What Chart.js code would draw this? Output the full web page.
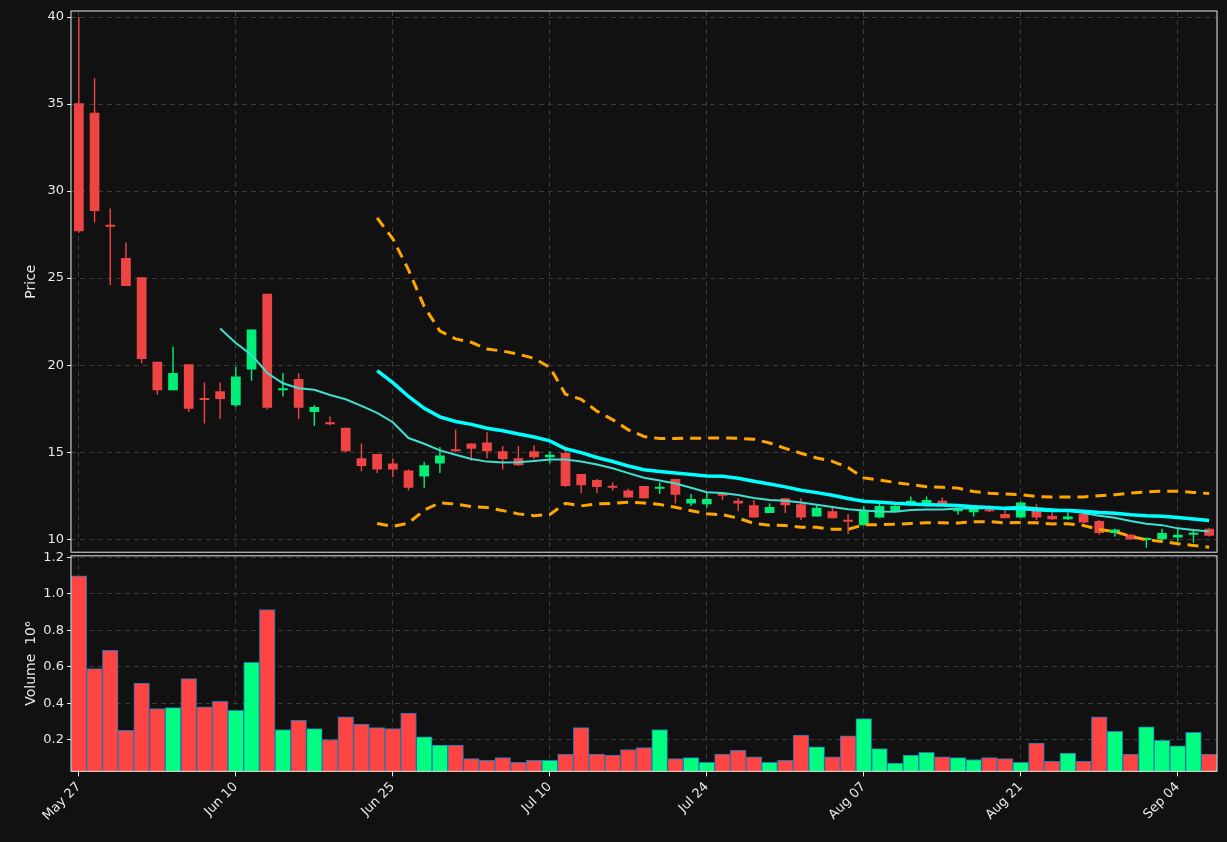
<!DOCTYPE html>
<html>
<head>
<meta charset="utf-8">
<script src="https://cdn.jsdelivr.net/npm/chart.js@4.4.1/dist/chart.umd.min.js"></script>
<style>
  body { margin: 0; background: #111111; width: 1227px; height: 842px; overflow: hidden; }
  #wrapPrice { position: absolute; left: 0; top: 0; width: 1227px; height: 563px; }
  #wrapVol   { position: absolute; left: 0; top: 545px; width: 1227px; height: 297px; }
</style>
</head>
<body>
<div id="wrapPrice"><canvas id="priceChart"></canvas></div>
<div id="wrapVol"><canvas id="volChart"></canvas></div>
<script>
// ── Data ─────────────────────────────────────────────────────
const tickLabels = ['May 27', 'Jun 10', 'Jun 25', 'Jul 10', 'Jul 24', 'Aug 07', 'Aug 21', 'Sep 04'];

const opens  = [35.05, 34.5, 28.05, 26.15, 25.05, 20.2, 18.55, 20.05, 18.05, 18.5,
                17.7, 19.75, 24.1, 18.55, 19.2, 17.3, 16.65, 16.4, 14.65, 14.9,
                14.35, 13.95, 13.6, 14.35, 15.1, 15.5, 15.55, 15.05, 14.65, 15.05,
                14.7, 14.95, 13.75, 13.4, 13.05, 12.8, 13.05, 12.9, 13.45, 12.05,
                12.0, 12.65, 12.2, 11.95, 11.5, 12.35, 12.0, 11.3, 11.6, 11.1,
                10.8, 11.25, 11.6, 11.95, 12.05, 12.2, 11.6, 11.55, 11.65, 11.45,
                11.25, 11.65, 11.35, 11.15, 11.45, 11.05, 10.35, 10.25, 9.95, 10.0,
                10.1, 10.25, 10.6];
const highs  = [40.0, 36.5, 29.0, 27.05, 25.05, 20.2, 21.05, 20.05, 19.0, 19.0,
                19.9, 22.05, 24.1, 19.55, 19.55, 17.7, 17.05, 16.4, 15.5, 14.9,
                14.65, 14.0, 14.45, 15.3, 16.3, 15.5, 16.15, 15.35, 15.35, 15.4,
                15.05, 15.15, 13.75, 13.45, 13.25, 12.9, 13.05, 13.25, 13.45, 12.6,
                12.7, 12.65, 12.35, 12.25, 12.05, 12.35, 12.35, 11.95, 11.8, 11.45,
                11.9, 12.1, 11.95, 12.45, 12.45, 12.4, 11.8, 11.85, 11.95, 11.65,
                12.15, 12.0, 11.6, 11.55, 11.5, 11.1, 10.6, 10.3, 10.1, 10.6,
                10.6, 10.55, 10.65];
const lows   = [27.6, 28.2, 24.6, 24.55, 20.1, 18.3, 18.55, 17.3, 16.65, 16.9,
                17.6, 19.1, 17.45, 18.2, 16.9, 16.5, 16.55, 15.0, 13.9, 13.8,
                13.55, 12.8, 12.95, 13.8, 15.0, 14.5, 14.65, 14.0, 14.2, 14.6,
                14.35, 13.0, 12.65, 12.65, 12.8, 12.4, 12.35, 12.6, 12.05, 11.9,
                11.8, 12.25, 11.6, 11.25, 11.5, 11.5, 11.1, 11.3, 11.2, 10.3,
                10.8, 11.2, 11.55, 11.95, 12.0, 11.9, 11.4, 11.3, 11.55, 11.2,
                11.2, 11.1, 11.1, 11.1, 10.9, 10.25, 10.15, 9.95, 9.5, 9.95,
                9.85, 9.8, 10.15];
const closes = [27.7, 28.85, 27.95, 24.55, 20.35, 18.55, 19.55, 17.5, 18.0, 18.05,
                19.35, 22.05, 17.55, 18.6, 17.55, 17.6, 16.6, 15.05, 14.2, 14.0,
                14.0, 12.95, 14.25, 14.8, 15.05, 15.2, 15.05, 14.6, 14.25, 14.7,
                14.85, 13.05, 13.1, 13.0, 12.95, 12.4, 12.35, 13.0, 12.55, 12.3,
                12.3, 12.5, 12.05, 11.25, 11.85, 11.95, 11.25, 11.8, 11.2, 11.0,
                11.65, 11.9, 11.9, 12.2, 12.25, 11.95, 11.7, 11.8, 11.6, 11.2,
                12.1, 11.25, 11.15, 11.3, 10.95, 10.35, 10.55, 10.0, 10.05, 10.35,
                10.25, 10.35, 10.2];
const volumes = [1.10, 0.59, 0.69, 0.25, 0.51, 0.37, 0.375, 0.535, 0.38, 0.41,
                 0.36, 0.625, 0.915, 0.255, 0.305, 0.26, 0.20, 0.325, 0.285, 0.265,
                 0.26, 0.345, 0.215, 0.17, 0.17, 0.095, 0.085, 0.10, 0.075, 0.085,
                 0.085, 0.12, 0.265, 0.12, 0.115, 0.145, 0.155, 0.255, 0.095, 0.10,
                 0.075, 0.12, 0.14, 0.105, 0.075, 0.085, 0.225, 0.16, 0.105, 0.22,
                 0.315, 0.15, 0.07, 0.115, 0.13, 0.105, 0.10, 0.09, 0.10, 0.095,
                 0.075, 0.18, 0.08, 0.125, 0.08, 0.325, 0.245, 0.12, 0.27, 0.195,
                 0.165, 0.24, 0.12];

// ── Derived series (moving averages / bands from closes) ─────
function rollingMean(arr, n) {
    return arr.map((v, i) => {
        if (i < n - 1) return null;
        const w = arr.slice(i - n + 1, i + 1);
        return w.reduce((a, b) => a + b, 0) / n;
    });
}
function rollingBand(arr, n, k) {
    const mid = rollingMean(arr, n);
    return arr.map((v, i) => {
        if (mid[i] === null) return null;
        const w = arr.slice(i - n + 1, i + 1);
        const sd = Math.sqrt(w.reduce((a, b) => a + (b - mid[i]) ** 2, 0) / (n - 1));
        return mid[i] + k * sd;
    });
}
const ma10  = rollingMean(closes, 10);
const ma20  = rollingMean(closes, 20);
const bbUp  = rollingBand(closes, 20, 2);
const bbLow = rollingBand(closes, 20, -2);

const UP = '#00ee77', DOWN = '#ee4444';
const idx = closes.map((c, i) => i);
const isUp = closes.map((c, i) => c >= opens[i]);

// ── Shared helpers ───────────────────────────────────────────
const txt = '#e8e8e8';
const frame = {
    id: 'frame',
    afterDraw(chart) {
        const a = chart.chartArea, c = chart.ctx;
        c.save();
        c.strokeStyle = '#e8e8e8';
        c.lineWidth = 1;
        c.strokeRect(a.left, a.top, a.right - a.left, a.bottom - a.top);
        c.restore();
    }
};
function xScale(showTicks) {
    return {
        type: 'category',
        offset: true,
        grid: {
            offset: false,
            drawTicks: showTicks,
            tickLength: 5,
            tickColor: ctx => (ctx.index % 10 === 0 ? txt : 'transparent'),
            color: ctx => (ctx.index % 10 === 0 ? '#3a3a3a' : 'transparent'),
        },
        border: { display: false, dash: [5, 4] },
        ticks: {
            display: showTicks,
            autoSkip: false,
            maxRotation: 45, minRotation: 45,
            color: txt,
            font: { family: 'DejaVu Sans', size: 13 },
            callback: (v, i) => (i % 10 === 0 ? tickLabels[i / 10] : ''),
        },
    };
}
function yScale(min, max, ticks, title, fmt) {
    return {
        min: min, max: max,
        afterBuildTicks: s => { s.ticks = ticks.map(v => ({ value: v })); },
        afterFit: s => { s.width = 52; },
        grid: { color: '#3a3a3a', tickColor: txt, tickLength: 4 },
        border: { display: false, dash: [5, 4] },
        ticks: { color: txt, font: { family: 'DejaVu Sans', size: 13 }, callback: fmt },
        title: { display: true, text: title, color: txt, font: { family: 'DejaVu Sans', size: 14 } },
    };
}

// ── Price panel ──────────────────────────────────────────────
new Chart(document.getElementById('priceChart'), {
    type: 'bar',
    data: {
        labels: idx,
        datasets: [
            { type: 'line', label: 'bbUp', data: bbUp, borderColor: '#ffa500', borderWidth: 3,
              borderDash: [11, 7], pointRadius: 0, tension: 0, order: 0 },
            { type: 'line', label: 'bbLow', data: bbLow, borderColor: '#ffa500', borderWidth: 3,
              borderDash: [11, 7], pointRadius: 0, tension: 0, order: 0 },
            { type: 'line', label: 'ma20', data: ma20, borderColor: '#00ffff', borderWidth: 3.5,
              pointRadius: 0, tension: 0, order: 0 },
            { type: 'line', label: 'ma10', data: ma10, borderColor: '#40e0d0', borderWidth: 2,
              pointRadius: 0, tension: 0, order: 0 },
            { label: 'body', data: opens.map((o, i) => [o, closes[i]]),
              backgroundColor: isUp.map(u => (u ? UP : DOWN)),
              barPercentage: 0.62, categoryPercentage: 1, minBarLength: 2, grouped: false, order: 1 },
            { label: 'wick', data: lows.map((l, i) => [l, highs[i]]),
              backgroundColor: isUp.map(u => (u ? UP : DOWN)),
              barPercentage: 0.09, categoryPercentage: 1, grouped: false, order: 2 },
        ]
    },
    options: {
        responsive: true,
        maintainAspectRatio: false,
        animation: false,
        layout: { padding: { top: 11, right: 10, bottom: 3, left: 19 } },
        plugins: { legend: { display: false }, tooltip: { enabled: false } },
        scales: {
            x: xScale(false),
            y: yScale(9.25, 40.35, [10, 15, 20, 25, 30, 35, 40], 'Price'),
        }
    },
    plugins: [frame]
});

// ── Volume panel ─────────────────────────────────────────────
new Chart(document.getElementById('volChart'), {
    type: 'bar',
    data: {
        labels: idx,
        datasets: [{
            label: 'Volume',
            data: volumes,
            backgroundColor: isUp.map(u => (u ? '#00ff80' : '#ff4444')),
            borderColor: '#1f77b4',
            borderWidth: 1,
            barPercentage: 1,
            categoryPercentage: 1,
        }]
    },
    options: {
        responsive: true,
        maintainAspectRatio: false,
        animation: false,
        layout: { padding: { top: 8, right: 10, bottom: 15, left: 19 } },
        plugins: { legend: { display: false }, tooltip: { enabled: false } },
        scales: {
            x: xScale(true),
            y: yScale(0.025, 1.21, [0.2, 0.4, 0.6, 0.8, 1.0, 1.2], 'Volume  10\u2076', v => v.toFixed(1)),
        }
    },
    plugins: [frame]
});
</script>
</body>
</html>
